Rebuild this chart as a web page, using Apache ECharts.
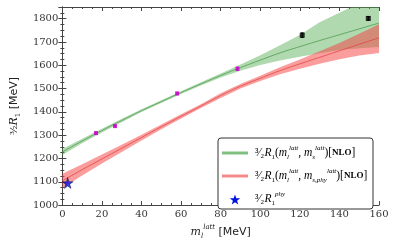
<!DOCTYPE html>
<html><head><meta charset="utf-8">
<script src="https://cdn.jsdelivr.net/npm/echarts@6/dist/echarts.min.js"></script>
<style>html,body{margin:0;padding:0;background:#fff}#c{width:399px;height:245px}</style>
</head><body><div id="c"></div>
<script>
var xs = [0,10,20,30,40,50,60,70,80,90,100,110,120,130,140,150,160];
var greenMid = [1228,1275,1320,1363,1405,1444,1483,1520,1556,1590,1622,1653,1680,1706,1731,1756,1781];
var greenHi  = [1241,1285,1328,1370,1411,1450,1489,1527,1565,1603,1643,1686,1730,1785,1825,1866,1905];
var greenLo  = [1215,1265,1312,1356,1399,1438,1477,1513,1547,1577,1601,1620,1636,1652,1665,1673,1678];
var redMid = [1104,1152,1198,1244,1290,1336,1381,1425,1470,1510,1544,1577,1606,1634,1662,1690,1718];
var redHi  = [1135,1175,1217,1259,1302,1346,1390,1433,1480,1520,1555,1591,1625,1660,1695,1735,1776];
var redLo  = [1073,1127,1178,1228,1277,1325,1372,1417,1460,1500,1533,1561,1585,1607,1626,1642,1653];
var magX = [17,26.6,58,88.5];
var magY = [1309,1339,1479,1585];
var magErr = [4,4,5,7];
var blkX = [121.2,154.6];
var blkY = [1729,1801];
var blkErr = [10,8];
var physX = [2.7];
var physY = [1095];
var xTicks = [0,20,40,60,80,100,120,140,160];
var yTicks = [1000,1100,1200,1300,1400,1500,1600,1700,1800];

var chart = echarts.init(document.getElementById('c'));
function band(lo, hi, fill){
  return {
    type:'custom', clip:true, z:1,
    data: xs.map(function(x,i){return [x, lo[i], hi[i]];}),
    renderItem:function(params, api){
      if(params.dataIndex!==0) return null;
      var pts=[];
      for(var i=0;i<xs.length;i++) pts.push(api.coord([xs[i],hi[i]]));
      for(var j=xs.length-1;j>=0;j--) pts.push(api.coord([xs[j],lo[j]]));
      return {type:'polygon', shape:{points:pts}, style:{fill:fill, stroke:null}};
    },
    silent:true
  };
}
function errSeries(X,Y,E,color){
  return {
    type:'custom', z:5,
    data: X.map(function(x,i){return [x,Y[i],E[i]];}),
    renderItem:function(params, api){
      var x=api.value(0), y=api.value(1), e=api.value(2);
      var p1=api.coord([x,y-e]), p2=api.coord([x,y+e]);
      return {type:'group', children:[
        {type:'line', shape:{x1:p1[0],y1:p1[1],x2:p2[0],y2:p2[1]}, style:{stroke:color,lineWidth:1}},
        {type:'line', shape:{x1:p1[0]-1.5,y1:p1[1],x2:p1[0]+1.5,y2:p1[1]}, style:{stroke:color,lineWidth:1}},
        {type:'line', shape:{x1:p2[0]-1.5,y1:p2[1],x2:p2[0]+1.5,y2:p2[1]}, style:{stroke:color,lineWidth:1}}
      ]};
    }
  };
}
function starPts(cx,cy,R){
  var p=[];
  for(var k=0;k<10;k++){
    var r = k%2===0?R:R*0.4;
    var a = -Math.PI/2 + k*Math.PI/5;
    p.push([cx+r*Math.cos(a), cy+r*Math.sin(a)]);
  }
  return p;
}
var serif = 'DejaVu Serif';
var lser = 'Liberation Serif';
var rich = {
  b:{fontFamily:lser,fontSize:11.5,color:'#222',lineHeight:16},
  i:{fontFamily:lser,fontStyle:'italic',fontSize:11.5,color:'#222',lineHeight:16},
  sub:{fontFamily:lser,fontSize:7,color:'#222',verticalAlign:'bottom',lineHeight:10},
  subi:{fontFamily:lser,fontStyle:'italic',fontSize:7,color:'#222',verticalAlign:'bottom',lineHeight:10},
  sup:{fontFamily:lser,fontStyle:'italic',fontSize:7,color:'#222',verticalAlign:'top',lineHeight:10},
  nlo:{fontFamily:lser,fontWeight:'bold',fontSize:9,color:'#222',lineHeight:16}
};
function axisCommon(){ return {
  axisLine:{show:true,lineStyle:{color:'#444',width:1}},
  axisTick:{show:true,inside:true,length:4,lineStyle:{color:'#444'}},
  minorTick:{show:true,splitNumber:4,length:2,lineStyle:{color:'#444'}},
  splitLine:{show:false}
};}
var option = {
  animation:false,
  grid:{left:60,right:20,top:7,bottom:30},
  xAxis:[
    Object.assign({type:'value',min:0,max:160,interval:20,position:'bottom',
      name:'{i|m}{subi|l}{sup|latt} {b|[MeV]}', nameLocation:'middle', nameGap:13,
      nameTextStyle:{rich:{
        i:{fontFamily:serif,fontStyle:'italic',fontSize:11,color:'#222',lineHeight:16},
        subi:{fontFamily:serif,fontStyle:'italic',fontSize:7,color:'#222',verticalAlign:'bottom',lineHeight:9},
        sup:{fontFamily:serif,fontStyle:'italic',fontSize:7,color:'#222',verticalAlign:'top',lineHeight:9},
        b:{fontFamily:'DejaVu Sans',fontSize:11,color:'#222',lineHeight:16}}},
      axisLabel:{fontFamily:serif,fontSize:10,color:'#333',margin:4,
        formatter:function(v){return xTicks.indexOf(v)>=0?String(v):'';}}
    },axisCommon()),
    Object.assign({type:'value',min:0,max:160,interval:20,position:'top',axisLabel:{show:false}},axisCommon())
  ],
  yAxis:[
    Object.assign({type:'value',min:1000,max:1850,interval:100,position:'left',
      name:'{b|³⁄₂}{i|R}{sub|1} {s|[MeV]}', nameLocation:'middle', nameGap:32, nameRotate:90,
      nameTextStyle:{rich:{
        b:{fontFamily:serif,fontSize:10,color:'#222',lineHeight:16},
        i:{fontFamily:serif,fontStyle:'italic',fontSize:11,color:'#222',lineHeight:16},
        sub:{fontFamily:serif,fontSize:7,color:'#222',verticalAlign:'bottom',lineHeight:10},
        s:{fontFamily:'DejaVu Sans',fontSize:11,color:'#222',lineHeight:16}}},
      axisLabel:{fontFamily:serif,fontSize:10,color:'#333',margin:4,
        formatter:function(v){return yTicks.indexOf(v)>=0?String(v):'';}}
    },axisCommon()),
    Object.assign({type:'value',min:1000,max:1850,interval:100,position:'right',axisLabel:{show:false}},axisCommon())
  ],
  series:[
    band(greenLo, greenHi, 'rgba(80,170,80,0.45)'),
    {type:'line', data:xs.map(function(x,i){return [x,greenMid[i]];}), smooth:true, showSymbol:false, z:2,
      lineStyle:{color:'#4d9a4d',width:0.8}},
    band(redLo, redHi, 'rgba(245,60,60,0.5)'),
    {type:'line', data:xs.map(function(x,i){return [x,redMid[i]];}), smooth:true, showSymbol:false, z:2,
      lineStyle:{color:'#e04848',width:0.8}},
    errSeries(magX,magY,magErr,'#cc22cc'),
    {type:'scatter', data:magX.map(function(x,i){return [x,magY[i]];}), symbol:'rect', symbolSize:4, z:6,
      itemStyle:{color:'#cc00cc'}},
    errSeries(blkX,blkY,blkErr,'#000'),
    {type:'scatter', data:blkX.map(function(x,i){return [x,blkY[i]];}), symbol:'rect', symbolSize:5, z:6,
      itemStyle:{color:'#000'}},
    {type:'scatter', data:physX.map(function(x,i){return [x,physY[i]];}), z:7,
      symbol:'path://M50,0 L61,35 L98,35 L68,57 L79,91 L50,70 L21,91 L32,57 L2,35 L39,35 Z', symbolSize:11,
      itemStyle:{color:'#0010e0',borderColor:'#000020',borderWidth:0.5}}
  ],
  graphic:[
    {type:'rect', shape:{x:218,y:138,width:155,height:71,r:3}, z:50,
      style:{fill:'#fff',stroke:'#333',lineWidth:1}},
    {type:'line', shape:{x1:222,y1:153,x2:248,y2:153}, z:51, style:{stroke:'#80c080',lineWidth:3}},
    {type:'line', shape:{x1:222,y1:176,x2:248,y2:176}, z:51, style:{stroke:'#f48a8a',lineWidth:3}},
    {type:'polygon', z:51, shape:{points:starPts(235,200,5.5)}, style:{fill:'#0010e0'}},
    {type:'text', x:255, y:145, z:52, style:{text:'{b|³⁄₂}{i|R}{sub|1}{b|(}{i|m}{subi|l}{sup|latt}{b|, }{i|m}{subi|s}{sup|latt}{b|)[}{nlo|NLO}{b|]}', rich:rich}},
    {type:'text', x:255, y:168, z:52, style:{text:'{b|³⁄₂}{i|R}{sub|1}{b|(}{i|m}{subi|l}{sup|latt}{b|, }{i|m}{subi|s,phy}{sup|latt}{b|)[}{nlo|NLO}{b|]}', rich:rich}},
    {type:'text', x:255, y:191, z:52, style:{text:'{b|³⁄₂}{i|R}{sub|1}{sup|phy}', rich:rich}}
  ]
};
chart.setOption(option);
</script></body></html>
